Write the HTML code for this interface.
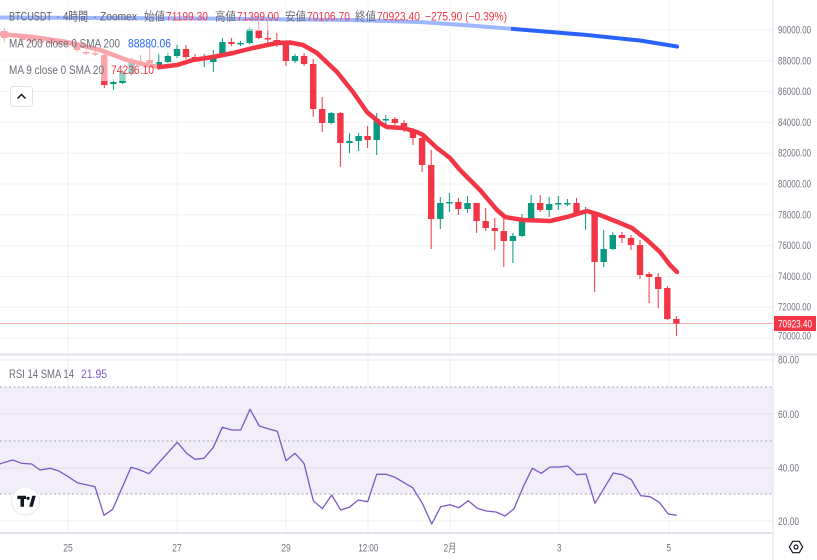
<!DOCTYPE html>
<html><head><meta charset="utf-8"><style>
html,body{margin:0;padding:0;background:#fff;}
svg{display:block;}
text{font-family:"Liberation Sans","Noto Sans CJK JP",sans-serif;}
</style></head><body>
<svg width="817" height="560" viewBox="0 0 817 560" xmlns="http://www.w3.org/2000/svg">
<rect width="817" height="560" fill="#fff"/>
<!-- main grid -->
<g stroke="#eff1f5" stroke-width="1">
<path d="M0 30H773M0 60.8H773M0 91.6H773M0 122.4H773M0 153.2H773M0 184H773M0 214.8H773M0 245.6H773M0 276.4H773M0 307.2H773M0 338H773"/>
<path d="M68 0V353M177 0V353M286 0V353M368 0V353M450 0V353M559 0V353M669 0V353"/>
<path d="M68 356V532M177 356V532M286 356V532M368 356V532M450 356V532M559 356V532M669 356V532"/>
</g>
<!-- RSI panel -->
<rect x="0" y="387" width="773" height="107" fill="#f2eef9"/>
<g stroke="rgba(110,110,150,0.13)" stroke-width="1">
<path d="M0 360H773M0 414H773M0 468H773M0 521H773"/>
</g>
<g stroke="#a3a6b0" stroke-width="1" stroke-dasharray="2 2.5">
<path d="M0 387H773M0 441H773M0 494H773"/>
</g>
<polyline fill="none" stroke="#7E57C2" stroke-width="1.3" stroke-linejoin="round" points="0,464 1.7,463.3 12.7,460 21.7,463.3 31.7,464 40,470 50,468.3 58.3,470.7 68.3,476.7 77.3,482.7 95,486.7 104,515.3 112.7,509.3 131,467.3 140,470 149,473.7 158.3,463.3 177.3,442.3 186.7,453.3 195,459.3 204,458.3 213.3,447.3 222.3,427.3 231.7,430 240.7,430 250,409.3 259.3,426 268.3,428.7 277.3,431.3 286,460.7 295,453.3 304,463.3 313.3,500.7 322.3,508.7 331.7,495 340.7,510 349.3,507.3 358.3,500 367.7,501.7 376.7,474.3 386,474.3 395,477.3 404,482.7 412.7,487.7 422.7,504 431.7,524 440.7,506.7 450,504.7 459,507.7 468.3,500.7 477.3,508.3 486,511 496,512 505,516 514,508.7 523.3,486.7 532.3,468.3 541.3,473.3 550,467 559.3,467 567.7,466 576.7,474.7 586,474 595,503.3 604,488.3 613.3,473 622.3,474.7 631.3,479.7 640.7,495.7 650,496.7 659.3,502.3 668.3,514 676.7,515.3"/>

<!-- price line -->
<path d="M0 323.5H773" stroke="#f7a7ae" stroke-width="1"/>

<!-- candles red -->
<path fill="none" stroke="#F23645" stroke-width="1" d="M4.4 28V42M22.6 36V42M31.7 38V43M40.8 39V44M49.8 40V45M58.9 41V46M68 42V47M77.1 42V52M86.2 50V55M95.2 51V56M104.3 50V88M140.6 55V66M149.7 45V65M186 45V59M195.1 54V62M231.4 38V46M258.7 20V39M267.8 15V45M276.8 33V47M285.9 41V66M304.1 53V66M313.2 59V117M322.2 97V132M340.4 112V167M367.6 126V148M394.9 117V125M404 120V132M413 128V145M422.1 137V172M431.2 150V249M458.4 198V215M476.6 203V233M485.7 208V231M494.8 218V250M503.8 219V267M540.2 195V212M576.5 198V214M594.6 213V292M621.9 232V243M631 235V250M640 240V279M649.1 272V303M658.2 273V308M667.3 286V320M676.4 316V336"/>
<path fill="#F23645" d="M1.2 31h6.4v7h-6.4zM19.4 38h6.4v2h-6.4zM28.5 40h6.4v1.5h-6.4zM37.6 41h6.4v1.5h-6.4zM46.6 42h6.4v1.5h-6.4zM55.7 43h6.4v1.5h-6.4zM64.8 44h6.4v1.5h-6.4zM73.9 43h6.4v7h-6.4zM83 52h6.4v1.5h-6.4zM92 53h6.4v1.5h-6.4zM101.1 55h6.4v30h-6.4zM137.4 62h6.4v2h-6.4zM146.5 60h6.4v3h-6.4zM182.8 49h6.4v8h-6.4zM191.9 57h6.4v2h-6.4zM228.2 42h6.4v2h-6.4zM255.5 30h6.4v8h-6.4zM264.6 38h6.4v1.5h-6.4zM273.6 40h6.4v2h-6.4zM282.7 43h6.4v18h-6.4zM300.9 56h6.4v8h-6.4zM310 64h6.4v45h-6.4zM319 109h6.4v14h-6.4zM337.2 113h6.4v30h-6.4zM364.4 136h6.4v4h-6.4zM391.7 119h6.4v4h-6.4zM400.8 123h6.4v7h-6.4zM409.8 130h6.4v8h-6.4zM418.9 138h6.4v27h-6.4zM428 165h6.4v54h-6.4zM455.2 202h6.4v7h-6.4zM473.4 203h6.4v18h-6.4zM482.5 221h6.4v7h-6.4zM491.6 228h6.4v3h-6.4zM500.6 231h6.4v10h-6.4zM537 203h6.4v7h-6.4zM573.3 203h6.4v10h-6.4zM591.4 213h6.4v49h-6.4zM618.7 235h6.4v3h-6.4zM627.8 238h6.4v7h-6.4zM636.8 245h6.4v30h-6.4zM645.9 274h6.4v3h-6.4zM655 277h6.4v12h-6.4zM664.1 288h6.4v31h-6.4zM673.2 319h6.4v4.5h-6.4z"/>
<!-- candles green -->
<path fill="none" stroke="#089981" stroke-width="1" d="M13.5 33V37M113.4 79V90M122.5 70V84M131.6 58V76M158.8 53V70M167.9 52V63M177 45V58M204.2 54V67M213.3 50V72M222.4 38V56M240.5 41V46M249.6 27V44M295 54V63M331.3 112V124M349.5 133V153M358.6 133V151M376.7 113V155M385.8 115V125M440.3 197V229M449.4 193V212M467.5 196V213M512.9 233V263M522 214V237M531.1 195V220M549.2 197V217M558.3 196V210M567.4 199V206M585.6 207V230M603.7 230V267M612.8 232V250"/>
<path fill="#089981" d="M10.3 34h6.4v2h-6.4zM110.2 82h6.4v2h-6.4zM119.3 72h6.4v11h-6.4zM128.4 61h6.4v13h-6.4zM155.6 62h6.4v5h-6.4zM164.7 56h6.4v6h-6.4zM173.8 49h6.4v7h-6.4zM201 58h6.4v2h-6.4zM210.1 55h6.4v7h-6.4zM219.2 42h6.4v13h-6.4zM237.3 43h6.4v1.5h-6.4zM246.4 29h6.4v14h-6.4zM291.8 56h6.4v5h-6.4zM328.1 113h6.4v10h-6.4zM346.3 141h6.4v2h-6.4zM355.4 136h6.4v5h-6.4zM373.5 119h6.4v21h-6.4zM382.6 119h6.4v1.5h-6.4zM437.1 203h6.4v16h-6.4zM446.2 202h6.4v1.5h-6.4zM464.3 203h6.4v6h-6.4zM509.7 236h6.4v5h-6.4zM518.8 219h6.4v17h-6.4zM527.9 203h6.4v16h-6.4zM546 204h6.4v6h-6.4zM555.1 203h6.4v1.5h-6.4zM564.2 203h6.4v1.5h-6.4zM582.4 210h6.4v3h-6.4zM600.5 249h6.4v13h-6.4zM609.6 235h6.4v14h-6.4z"/>

<!-- MA9 -->
<polyline fill="none" stroke="#F23645" stroke-width="4.5" stroke-linejoin="round" stroke-linecap="round" points="0,34 33,37 67,42 100,50 127,60 147,65 160,67 177,65 193,60 213,57 233,53 253,48 277,43 290,42.5 303,45 317,53 337,72 353,92 367,112 380,123 387,127 403,128 417,132 423,135 437,148 450,158 460,170 480,190 497,210 505,217 523,220 550,221 567,217 587,211 600,215 620,223 632,228 647,240 660,252 670,265 677,272"/>
<!-- MA200 -->
<polyline fill="none" stroke="#2962FF" stroke-width="4" stroke-linejoin="round" stroke-linecap="round" points="0,17.5 200,18.5 350,20 420,22 470,25.5 520,29.5 587,35 640,40.5 677,46.5"/>

<!-- legend fades -->
<rect x="0" y="5" width="511" height="26" fill="rgba(255,255,255,0.55)"/>
<rect x="0" y="31" width="173" height="24" fill="rgba(255,255,255,0.55)"/>
<rect x="0" y="55" width="157" height="26" fill="rgba(255,255,255,0.55)"/>

<!-- legend text -->
<g font-size="12" fill="#6b6e79" lengthAdjust="spacingAndGlyphs">
<text x="9" y="20.5" textLength="43" lengthAdjust="spacingAndGlyphs" fill="#5d606b">BTCUSDT</text>
<text x="56" y="20.5" fill="#5d606b">·</text>
<text x="63" y="20.5" textLength="25" lengthAdjust="spacingAndGlyphs" fill="#5d606b">4時間</text>
<text x="93" y="20.5" fill="#5d606b">·</text>
<text x="100" y="20.5" textLength="37" lengthAdjust="spacingAndGlyphs" fill="#5d606b">Zoomex</text>
<text x="144" y="20.5" textLength="21" lengthAdjust="spacingAndGlyphs">始値</text>
<text x="166" y="20.5" textLength="42" lengthAdjust="spacingAndGlyphs" fill="#F23645">71199.30</text>
<text x="215" y="20.5" textLength="21" lengthAdjust="spacingAndGlyphs">高値</text>
<text x="237" y="20.5" textLength="42" lengthAdjust="spacingAndGlyphs" fill="#F23645">71399.00</text>
<text x="285" y="20.5" textLength="21" lengthAdjust="spacingAndGlyphs">安値</text>
<text x="307" y="20.5" textLength="43" lengthAdjust="spacingAndGlyphs" fill="#F23645">70106.70</text>
<text x="355" y="20.5" textLength="21" lengthAdjust="spacingAndGlyphs">終値</text>
<text x="377" y="20.5" textLength="43" lengthAdjust="spacingAndGlyphs" fill="#F23645">70923.40</text>
<text x="425" y="20.5" textLength="82" lengthAdjust="spacingAndGlyphs" fill="#F23645">−275.90 (−0.39%)</text>
<text x="9" y="47.5" textLength="111" lengthAdjust="spacingAndGlyphs">MA 200 close 0 SMA 200</text>
<text x="128" y="47.5" textLength="43" lengthAdjust="spacingAndGlyphs" fill="#2962FF">88880.06</text>
<text x="9" y="74" textLength="95" lengthAdjust="spacingAndGlyphs">MA 9 close 0 SMA 20</text>
<text x="111" y="74" textLength="43" lengthAdjust="spacingAndGlyphs" fill="#F23645">74236.10</text>
<text x="9" y="378" textLength="65" lengthAdjust="spacingAndGlyphs">RSI 14 SMA 14</text>
<text x="81" y="378" textLength="26" lengthAdjust="spacingAndGlyphs" fill="#7E57C2">21.95</text>
</g>

<!-- up button -->
<rect x="10.5" y="86.5" width="22" height="20" rx="3" fill="#fff" stroke="#e0e3eb"/>
<path d="M17.5 98.5L21.5 94.5L25.5 98.5" fill="none" stroke="#131722" stroke-width="1.5"/>

<!-- TV logo -->
<circle cx="25.5" cy="501" r="14" fill="#fff" stroke="#e6e8ee"/>
<path d="M17.3 495.7H26V499H24V506.7H20.5V499H17.3Z" fill="#131722"/>
<circle cx="28" cy="498.3" r="1.6" fill="#131722"/>
<path d="M29.2 506.7L32.3 495.7H35.8L32.7 506.7Z" fill="#131722"/>

<!-- separators / axes -->
<path d="M0 354.5H817" stroke="#e0e3eb" stroke-width="2"/>
<path d="M0 533H773" stroke="#e0e3eb" stroke-width="2"/>
<path d="M773 0V560" stroke="#e0e3eb" stroke-width="1"/>

<!-- y labels -->
<g font-size="11" fill="#737682">
<text x="778" y="33.5" textLength="33" lengthAdjust="spacingAndGlyphs">90000.00</text>
<text x="778" y="64.3" textLength="33" lengthAdjust="spacingAndGlyphs">88000.00</text>
<text x="778" y="95.1" textLength="33" lengthAdjust="spacingAndGlyphs">86000.00</text>
<text x="778" y="125.9" textLength="33" lengthAdjust="spacingAndGlyphs">84000.00</text>
<text x="778" y="156.7" textLength="33" lengthAdjust="spacingAndGlyphs">82000.00</text>
<text x="778" y="187.5" textLength="33" lengthAdjust="spacingAndGlyphs">80000.00</text>
<text x="778" y="218.3" textLength="33" lengthAdjust="spacingAndGlyphs">78000.00</text>
<text x="778" y="249.1" textLength="33" lengthAdjust="spacingAndGlyphs">76000.00</text>
<text x="778" y="279.9" textLength="33" lengthAdjust="spacingAndGlyphs">74000.00</text>
<text x="778" y="310.7" textLength="33" lengthAdjust="spacingAndGlyphs">72000.00</text>
<text x="778" y="339.7" textLength="33" lengthAdjust="spacingAndGlyphs">70000.00</text>
<text x="778" y="363.7" textLength="21" lengthAdjust="spacingAndGlyphs">80.00</text>
<text x="778" y="418" textLength="21" lengthAdjust="spacingAndGlyphs">60.00</text>
<text x="778" y="471.7" textLength="21" lengthAdjust="spacingAndGlyphs">40.00</text>
<text x="778" y="525" textLength="21" lengthAdjust="spacingAndGlyphs">20.00</text>
</g>
<!-- price label -->
<rect x="774" y="316" width="42" height="15" fill="#F23645"/>
<text x="778" y="327.5" font-size="11" fill="#fff" textLength="34" lengthAdjust="spacingAndGlyphs">70923.40</text>

<!-- time labels -->
<g font-size="11" fill="#737682" text-anchor="middle">
<text x="68" y="551.5" textLength="9.5" lengthAdjust="spacingAndGlyphs">25</text>
<text x="177" y="551.5" textLength="9.5" lengthAdjust="spacingAndGlyphs">27</text>
<text x="286" y="551.5" textLength="9.5" lengthAdjust="spacingAndGlyphs">29</text>
<text x="368.3" y="551.5" textLength="20" lengthAdjust="spacingAndGlyphs">12:00</text>
<text x="450" y="551.5" textLength="13" lengthAdjust="spacingAndGlyphs">2月</text>
<text x="559.3" y="551.5" textLength="4.5" lengthAdjust="spacingAndGlyphs">3</text>
<text x="668.7" y="551.5" textLength="4.5" lengthAdjust="spacingAndGlyphs">5</text>
</g>

<!-- settings icon -->
<path d="M792.7 541.3L799.3 541.3L802.6 547L799.3 552.7L792.7 552.7L789.4 547Z" fill="none" stroke="#131722" stroke-width="1.2"/>
<circle cx="796" cy="547" r="2" fill="none" stroke="#131722" stroke-width="1.2"/>
</svg>
</body></html>
